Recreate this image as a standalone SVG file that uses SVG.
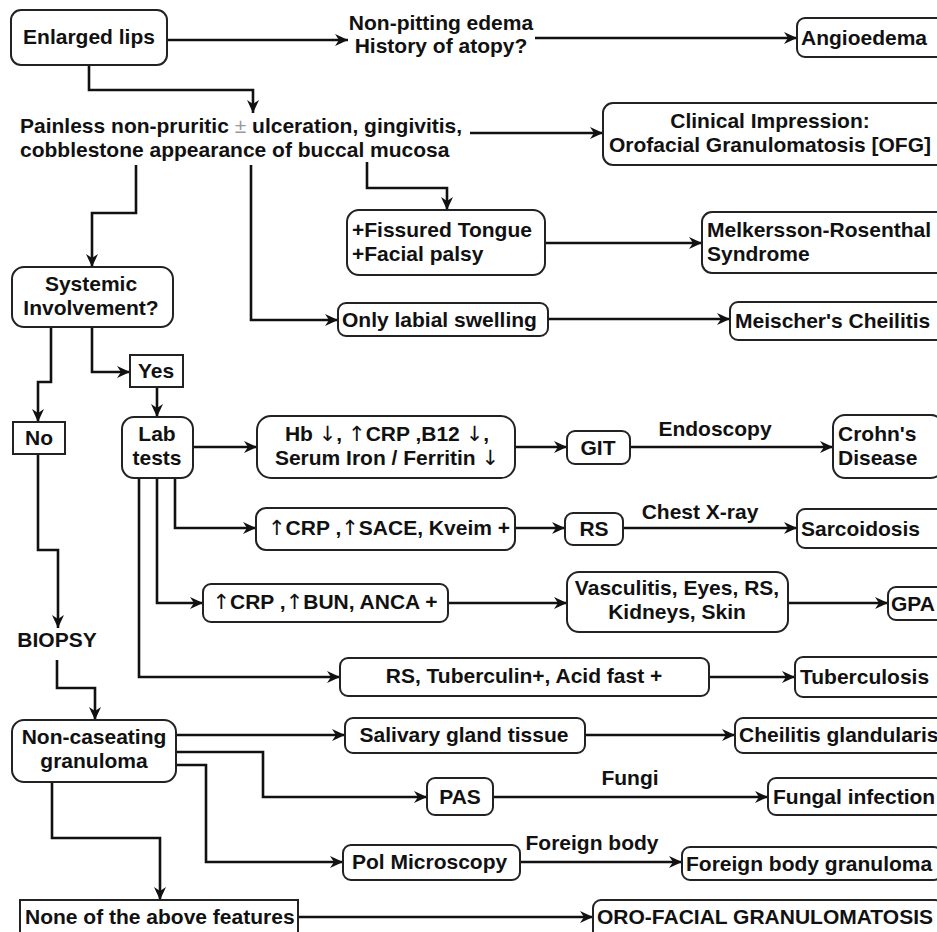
<svg xmlns="http://www.w3.org/2000/svg" width="937" height="932" viewBox="0 0 937 932">
<style>
text{font-family:"Liberation Sans",Arial,sans-serif;font-weight:bold;font-size:21px;fill:#111}
.c{text-anchor:middle}
.box{fill:#fff;stroke:#222;stroke-width:2}
.ln{fill:none;stroke:#111;stroke-width:2.6;marker-end:url(#ah)}
.lbl{text-anchor:middle}
.pm{fill:#999;font-weight:normal}
.ar{font-family:"DejaVu Sans",sans-serif;font-weight:normal;fill:#111}
</style>
<defs>
<marker id="ah" markerUnits="userSpaceOnUse" markerWidth="14" markerHeight="12" refX="13" refY="6" orient="auto">
<path d="M0,0 L13,6 L0,12 L4,6 z" fill="#111"/>
</marker>
</defs>
<rect width="937" height="932" fill="#fff"/>
<g id="connectors">
<path class="ln" d="M167,40 H348"/>
<path class="ln" d="M535,38 H797"/>
<path class="ln" d="M89,65 V90 H253 V113"/>
<path class="ln" d="M470,133 H603"/>
<path class="ln" d="M136,165 V213 H92 V267"/>
<path class="ln" d="M251,165 V320 H338"/>
<path class="ln" d="M367,162 V188 H447 V210"/>
<path class="ln" d="M545,243 H702"/>
<path class="ln" d="M548,319 H730"/>
<path class="ln" d="M51,327 V382 H38 V422"/>
<path class="ln" d="M92,327 V372 H130"/>
<path class="ln" d="M157,387 V417"/>
<path class="ln" d="M193,447 H257"/>
<path class="ln" d="M515,447 H567"/>
<path class="ln" d="M630,447 H833"/>
<path class="ln" d="M175,478 V528 H256"/>
<path class="ln" d="M515,528 H565"/>
<path class="ln" d="M623,528 H797"/>
<path class="ln" d="M157,478 V603 H203"/>
<path class="ln" d="M448,603 H567"/>
<path class="ln" d="M788,603 H888"/>
<path class="ln" d="M139,478 V677 H340"/>
<path class="ln" d="M709,677 H795"/>
<path class="ln" d="M38,454 V550 H58 V628"/>
<path class="ln" d="M57,660 V688 H95 V720"/>
<path class="ln" d="M176,735 H345"/>
<path class="ln" d="M585,735 H735"/>
<path class="ln" d="M176,752 H263 V797 H427"/>
<path class="ln" d="M493,797 H768"/>
<path class="ln" d="M176,765 H206 V862 H343"/>
<path class="ln" d="M520,862 H682"/>
<path class="ln" d="M52,782 V838 H160 V900"/>
<path class="ln" d="M298,917 H593"/>
<text class="lbl" x="715" y="436">Endoscopy</text>
<text class="lbl" x="700" y="519">Chest X-ray</text>
<text class="lbl" x="630" y="785">Fungi</text>
<text class="lbl" x="592" y="850">Foreign body</text>
</g>
<g id="lips"><rect class="box" x="11" y="10" width="156" height="55" rx="10"/><text class="c" x="89" y="44">Enlarged lips</text></g>
<g id="nonpitting"><text class="c" x="441" y="30">Non-pitting edema</text><text class="c" x="441" y="53">History of atopy?</text></g>
<g id="angio"><rect class="box" x="797" y="18" width="150" height="39" rx="8"/><text x="801" y="45">Angioedema</text></g>
<g id="painless"><text x="20" y="133">Painless non-pruritic <tspan class="pm">±</tspan> ulceration, gingivitis,</text><text x="20" y="157">cobblestone appearance of buccal mucosa</text></g>
<g id="clinical"><rect class="box" x="603" y="103" width="345" height="62" rx="10"/><text class="c" x="770" y="128">Clinical Impression:</text><text class="c" x="770" y="152">Orofacial Granulomatosis [OFG]</text></g>
<g id="fissured"><rect class="box" x="347" y="210" width="198" height="65" rx="12"/><text x="352" y="237">+Fissured Tongue</text><text x="352" y="261">+Facial palsy</text></g>
<g id="melkersson"><rect class="box" x="702" y="212" width="245" height="61" rx="10"/><text x="707" y="237">Melkersson-Rosenthal</text><text x="707" y="261">Syndrome</text></g>
<g id="onlylabial"><rect class="box" x="338" y="303" width="210" height="33" rx="8"/><text x="342" y="327">Only labial swelling</text></g>
<g id="meischer"><rect class="box" x="730" y="302" width="215" height="38" rx="8"/><text x="735" y="328">Meischer's Cheilitis</text></g>
<g id="systemic"><rect class="box" x="12" y="267" width="161" height="60" rx="12"/><text class="c" x="91" y="291">Systemic</text><text class="c" x="91" y="315">Involvement?</text></g>
<g id="yes"><rect class="box" x="130" y="355" width="53" height="32"/><text class="c" x="156" y="378">Yes</text></g>
<g id="no"><rect class="box" x="13" y="422" width="52" height="32"/><text class="c" x="39" y="445">No</text></g>
<g id="lab"><rect class="box" x="122" y="417" width="71" height="61" rx="12"/><text class="c" x="157" y="441">Lab</text><text class="c" x="157" y="465">tests</text></g>
<g id="hb"><rect class="box" x="257" y="416" width="258" height="62" rx="14"/><text class="c" x="387" y="441">Hb <tspan class="ar">↓</tspan>, <tspan class="ar">↑</tspan>CRP ,B12 <tspan class="ar">↓</tspan>,</text><text class="c" x="387" y="465">Serum Iron / Ferritin <tspan class="ar">↓</tspan></text></g>
<g id="git"><rect class="box" x="567" y="431" width="63" height="33" rx="8"/><text class="c" x="598" y="455">GIT</text></g>
<g id="crohn"><rect class="box" x="833" y="415" width="110" height="63" rx="12"/><text x="838" y="441">Crohn's</text><text x="838" y="465">Disease</text></g>
<g id="sace"><rect class="box" x="256" y="508" width="259" height="42" rx="10"/><text class="c" x="389" y="535"><tspan class="ar">↑</tspan>CRP ,<tspan class="ar">↑</tspan>SACE, Kveim +</text></g>
<g id="rs"><rect class="box" x="565" y="513" width="58" height="32" rx="8"/><text class="c" x="594" y="536">RS</text></g>
<g id="sarc"><rect class="box" x="797" y="509" width="150" height="39" rx="8"/><text x="801" y="536">Sarcoidosis</text></g>
<g id="bun"><rect class="box" x="203" y="584" width="245" height="38" rx="8"/><text class="c" x="325" y="609"><tspan class="ar">↑</tspan>CRP ,<tspan class="ar">↑</tspan>BUN, ANCA +</text></g>
<g id="vasc"><rect class="box" x="567" y="572" width="221" height="60" rx="12"/><text class="c" x="677" y="595">Vasculitis, Eyes, RS,</text><text class="c" x="677" y="619">Kidneys, Skin</text></g>
<g id="gpa"><rect class="box" x="888" y="587" width="60" height="33" rx="8"/><text x="891" y="611">GPA</text></g>
<g id="rstb"><rect class="box" x="340" y="658" width="369" height="38" rx="8"/><text class="c" x="524" y="683">RS, Tuberculin+, Acid fast +</text></g>
<g id="tb"><rect class="box" x="795" y="657" width="150" height="40" rx="8"/><text x="800" y="684">Tuberculosis</text></g>
<g id="biopsy"><text class="c" x="57" y="647">BIOPSY</text></g>
<g id="noncas"><rect class="box" x="12" y="720" width="164" height="62" rx="12"/><text class="c" x="94" y="744">Non-caseating</text><text class="c" x="94" y="768">granuloma</text></g>
<g id="salivary"><rect class="box" x="345" y="718" width="240" height="35" rx="8"/><text class="c" x="464" y="742">Salivary gland tissue</text></g>
<g id="cheilitis"><rect class="box" x="735" y="718" width="210" height="35" rx="8"/><text x="739" y="742">Cheilitis glandularis</text></g>
<g id="pas"><rect class="box" x="427" y="778" width="66" height="37" rx="8"/><text class="c" x="460" y="804">PAS</text></g>
<g id="fungal"><rect class="box" x="768" y="778" width="175" height="37" rx="8"/><text x="773" y="804">Fungal infection</text></g>
<g id="pol"><rect class="box" x="343" y="845" width="177" height="35" rx="8"/><text x="352" y="869">Pol Microscopy</text></g>
<g id="fbg"><rect class="box" x="682" y="847" width="260" height="33" rx="8"/><text x="686" y="871">Foreign body granuloma</text></g>
<g id="none"><rect class="box" x="20" y="900" width="278" height="40"/><text x="25" y="924">None of the above features</text></g>
<g id="oro"><rect class="box" x="593" y="900" width="350" height="40" rx="8"/><text x="597" y="924">ORO-FACIAL GRANULOMATOSIS</text></g>
</svg>
